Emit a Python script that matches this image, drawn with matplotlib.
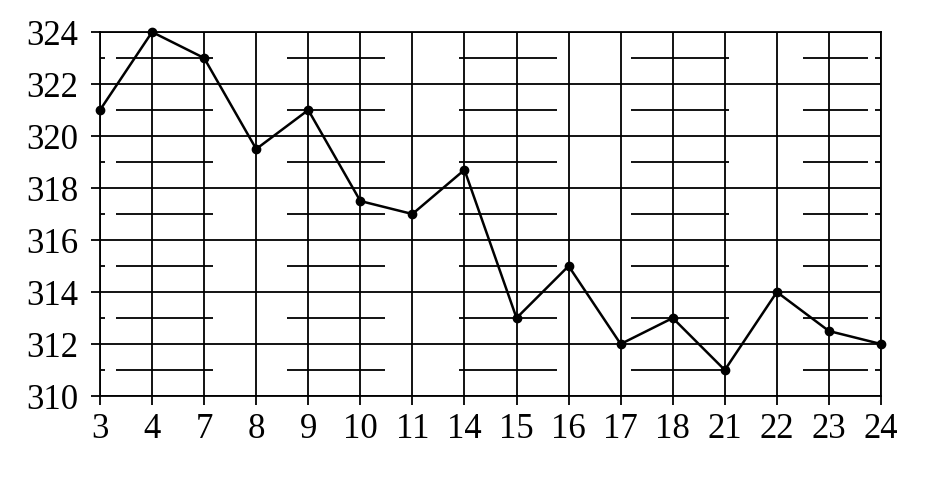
import matplotlib
matplotlib.use("Agg")
import matplotlib.pyplot as plt

# ---------------------------------------------------------------------------
# Data
# ---------------------------------------------------------------------------
days = ["3", "4", "7", "8", "9", "10", "11", "14", "15", "16", "17", "18",
        "21", "22", "23", "24"]
values = [321, 324, 323, 319.5, 321, 317.5, 317, 318.7, 313, 315, 312, 313,
          311, 314, 312.5, 312]
y_ticks = [310, 312, 314, 316, 318, 320, 322, 324]
minor_levels = [311, 313, 315, 317, 319, 321, 323]
# broken minor gridline pieces, in category-index units
minor_pieces = [(0.0, 0.1), (0.31, 2.17), (3.59, 5.47), (6.89, 8.78),
                (10.2, 12.08), (13.5, 14.75), (14.88, 15.0)]

plt.rcParams["font.family"] = ["Liberation Serif", "DejaVu Serif"]

fig = plt.figure(figsize=(9.26, 4.78), dpi=100)
ax = fig.add_axes([0.108, 0.1715, 0.8434, 0.7615])

x = list(range(len(days)))
lw = 1.3

# major grid
for v in y_ticks:
    ax.axhline(v, color="black", linewidth=lw, zorder=1)
for xi in x:
    ax.axvline(xi, color="black", linewidth=lw, zorder=1)

# minor broken lines
for v in minor_levels:
    for a, b in minor_pieces:
        ax.hlines(v, a, b, color="black", linewidth=lw, zorder=1)

ax.plot(x, values, color="black", linewidth=1.8, marker="o",
        markersize=6, zorder=3, clip_on=False)

ax.set_xlim(0, len(days) - 1)
ax.set_ylim(310, 324)
ax.set_xticks(x)
ax.set_xticklabels(days)
ax.set_yticks(y_ticks)

for s in ax.spines.values():
    s.set_linewidth(lw)
    s.set_color("black")

ax.tick_params(axis="both", labelsize=25, length=6.5, width=lw,
               color="black")
ax.tick_params(axis="y", pad=9)
ax.tick_params(axis="x", pad=6)

fig.savefig("out.png", dpi=100)
